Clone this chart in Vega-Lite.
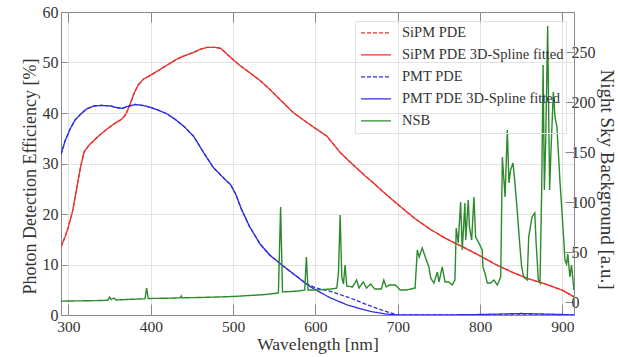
{
  "$schema": "https://vega.github.io/schema/vega-lite/v6.json",
  "width": 513,
  "height": 303,
  "autosize": {"type": "none"},
  "padding": {"left": 61, "top": 12, "right": 44, "bottom": 42},
  "background": "white",
  "config": {
    "font": "Liberation Serif",
    "view": {"stroke": "#999"},
    "axis": {
      "labelFont": "Liberation Serif",
      "titleFont": "Liberation Serif",
      "labelFontSize": 16,
      "titleFontSize": 17.5,
      "titleFontWeight": "normal",
      "labelColor": "#333",
      "titleColor": "#333",
      "domainColor": "#888",
      "tickColor": "#888",
      "gridColor": "#e3e3e3"
    }
  },
  "datasets": {
    "pde": [
      {"s": "SiPM PDE", "wl": 291, "v": 13.5}, {"s": "SiPM PDE", "wl": 296, "v": 15.5}, {"s": "SiPM PDE", "wl": 300, "v": 17.5}, {"s": "SiPM PDE", "wl": 305, "v": 20.5}, {"s": "SiPM PDE", "wl": 310, "v": 25}, {"s": "SiPM PDE", "wl": 315, "v": 29.5}, {"s": "SiPM PDE", "wl": 319, "v": 32.3}, {"s": "SiPM PDE", "wl": 325, "v": 33.6}, {"s": "SiPM PDE", "wl": 335, "v": 35.2}, {"s": "SiPM PDE", "wl": 345, "v": 36.6}, {"s": "SiPM PDE", "wl": 355, "v": 37.8}, {"s": "SiPM PDE", "wl": 365, "v": 38.8}, {"s": "SiPM PDE", "wl": 370, "v": 39.8}, {"s": "SiPM PDE", "wl": 375, "v": 41.8}, {"s": "SiPM PDE", "wl": 380, "v": 44}, {"s": "SiPM PDE", "wl": 385, "v": 45.6}, {"s": "SiPM PDE", "wl": 391, "v": 46.7}, {"s": "SiPM PDE", "wl": 400, "v": 47.5}, {"s": "SiPM PDE", "wl": 412, "v": 48.7}, {"s": "SiPM PDE", "wl": 422, "v": 49.7}, {"s": "SiPM PDE", "wl": 432, "v": 50.7}, {"s": "SiPM PDE", "wl": 442, "v": 51.4}, {"s": "SiPM PDE", "wl": 452, "v": 52}, {"s": "SiPM PDE", "wl": 460, "v": 52.6}, {"s": "SiPM PDE", "wl": 468, "v": 53}, {"s": "SiPM PDE", "wl": 478, "v": 53}, {"s": "SiPM PDE", "wl": 485, "v": 52.8}, {"s": "SiPM PDE", "wl": 493, "v": 51.6}, {"s": "SiPM PDE", "wl": 501, "v": 50.4}, {"s": "SiPM PDE", "wl": 510, "v": 49.2}, {"s": "SiPM PDE", "wl": 520, "v": 48}, {"s": "SiPM PDE", "wl": 533, "v": 46.4}, {"s": "SiPM PDE", "wl": 545, "v": 44.6}, {"s": "SiPM PDE", "wl": 553, "v": 43.3}, {"s": "SiPM PDE", "wl": 563, "v": 41.7}, {"s": "SiPM PDE", "wl": 573, "v": 40.1}, {"s": "SiPM PDE", "wl": 583, "v": 38.9}, {"s": "SiPM PDE", "wl": 595, "v": 37.5}, {"s": "SiPM PDE", "wl": 605, "v": 36.4}, {"s": "SiPM PDE", "wl": 614, "v": 35.4}, {"s": "SiPM PDE", "wl": 622, "v": 33.8}, {"s": "SiPM PDE", "wl": 630, "v": 32.2}, {"s": "SiPM PDE", "wl": 640, "v": 30.6}, {"s": "SiPM PDE", "wl": 650, "v": 29.1}, {"s": "SiPM PDE", "wl": 660, "v": 27.6}, {"s": "SiPM PDE", "wl": 670, "v": 26.2}, {"s": "SiPM PDE", "wl": 680, "v": 24.7}, {"s": "SiPM PDE", "wl": 690, "v": 23.3}, {"s": "SiPM PDE", "wl": 700, "v": 21.9}, {"s": "SiPM PDE", "wl": 720, "v": 19.2}, {"s": "SiPM PDE", "wl": 740, "v": 16.9}, {"s": "SiPM PDE", "wl": 760, "v": 15}, {"s": "SiPM PDE", "wl": 780, "v": 13.4}, {"s": "SiPM PDE", "wl": 800, "v": 11.7}, {"s": "SiPM PDE", "wl": 820, "v": 9.9}, {"s": "SiPM PDE", "wl": 840, "v": 8.4}, {"s": "SiPM PDE", "wl": 860, "v": 7.1}, {"s": "SiPM PDE", "wl": 880, "v": 6.1}, {"s": "SiPM PDE", "wl": 900, "v": 4.9}, {"s": "SiPM PDE", "wl": 914, "v": 3.6},
      {"s": "SiPM PDE 3D-Spline fitted", "wl": 291, "v": 13.5}, {"s": "SiPM PDE 3D-Spline fitted", "wl": 296, "v": 15.5}, {"s": "SiPM PDE 3D-Spline fitted", "wl": 300, "v": 17.5}, {"s": "SiPM PDE 3D-Spline fitted", "wl": 305, "v": 20.5}, {"s": "SiPM PDE 3D-Spline fitted", "wl": 310, "v": 25}, {"s": "SiPM PDE 3D-Spline fitted", "wl": 315, "v": 29.5}, {"s": "SiPM PDE 3D-Spline fitted", "wl": 319, "v": 32.3}, {"s": "SiPM PDE 3D-Spline fitted", "wl": 325, "v": 33.6}, {"s": "SiPM PDE 3D-Spline fitted", "wl": 335, "v": 35.2}, {"s": "SiPM PDE 3D-Spline fitted", "wl": 345, "v": 36.6}, {"s": "SiPM PDE 3D-Spline fitted", "wl": 355, "v": 37.8}, {"s": "SiPM PDE 3D-Spline fitted", "wl": 365, "v": 38.8}, {"s": "SiPM PDE 3D-Spline fitted", "wl": 370, "v": 39.8}, {"s": "SiPM PDE 3D-Spline fitted", "wl": 375, "v": 41.8}, {"s": "SiPM PDE 3D-Spline fitted", "wl": 380, "v": 44}, {"s": "SiPM PDE 3D-Spline fitted", "wl": 385, "v": 45.6}, {"s": "SiPM PDE 3D-Spline fitted", "wl": 391, "v": 46.7}, {"s": "SiPM PDE 3D-Spline fitted", "wl": 400, "v": 47.5}, {"s": "SiPM PDE 3D-Spline fitted", "wl": 412, "v": 48.7}, {"s": "SiPM PDE 3D-Spline fitted", "wl": 422, "v": 49.7}, {"s": "SiPM PDE 3D-Spline fitted", "wl": 432, "v": 50.7}, {"s": "SiPM PDE 3D-Spline fitted", "wl": 442, "v": 51.4}, {"s": "SiPM PDE 3D-Spline fitted", "wl": 452, "v": 52}, {"s": "SiPM PDE 3D-Spline fitted", "wl": 460, "v": 52.6}, {"s": "SiPM PDE 3D-Spline fitted", "wl": 468, "v": 53}, {"s": "SiPM PDE 3D-Spline fitted", "wl": 478, "v": 53}, {"s": "SiPM PDE 3D-Spline fitted", "wl": 485, "v": 52.8}, {"s": "SiPM PDE 3D-Spline fitted", "wl": 493, "v": 51.6}, {"s": "SiPM PDE 3D-Spline fitted", "wl": 501, "v": 50.4}, {"s": "SiPM PDE 3D-Spline fitted", "wl": 510, "v": 49.2}, {"s": "SiPM PDE 3D-Spline fitted", "wl": 520, "v": 48}, {"s": "SiPM PDE 3D-Spline fitted", "wl": 533, "v": 46.4}, {"s": "SiPM PDE 3D-Spline fitted", "wl": 545, "v": 44.6}, {"s": "SiPM PDE 3D-Spline fitted", "wl": 553, "v": 43.3}, {"s": "SiPM PDE 3D-Spline fitted", "wl": 563, "v": 41.7}, {"s": "SiPM PDE 3D-Spline fitted", "wl": 573, "v": 40.1}, {"s": "SiPM PDE 3D-Spline fitted", "wl": 583, "v": 38.9}, {"s": "SiPM PDE 3D-Spline fitted", "wl": 595, "v": 37.5}, {"s": "SiPM PDE 3D-Spline fitted", "wl": 605, "v": 36.4}, {"s": "SiPM PDE 3D-Spline fitted", "wl": 614, "v": 35.4}, {"s": "SiPM PDE 3D-Spline fitted", "wl": 622, "v": 33.8}, {"s": "SiPM PDE 3D-Spline fitted", "wl": 630, "v": 32.2}, {"s": "SiPM PDE 3D-Spline fitted", "wl": 640, "v": 30.6}, {"s": "SiPM PDE 3D-Spline fitted", "wl": 650, "v": 29.1}, {"s": "SiPM PDE 3D-Spline fitted", "wl": 660, "v": 27.6}, {"s": "SiPM PDE 3D-Spline fitted", "wl": 670, "v": 26.2}, {"s": "SiPM PDE 3D-Spline fitted", "wl": 680, "v": 24.7}, {"s": "SiPM PDE 3D-Spline fitted", "wl": 690, "v": 23.3}, {"s": "SiPM PDE 3D-Spline fitted", "wl": 700, "v": 21.9}, {"s": "SiPM PDE 3D-Spline fitted", "wl": 720, "v": 19.2}, {"s": "SiPM PDE 3D-Spline fitted", "wl": 740, "v": 16.9}, {"s": "SiPM PDE 3D-Spline fitted", "wl": 760, "v": 15}, {"s": "SiPM PDE 3D-Spline fitted", "wl": 780, "v": 13.4}, {"s": "SiPM PDE 3D-Spline fitted", "wl": 800, "v": 11.7}, {"s": "SiPM PDE 3D-Spline fitted", "wl": 820, "v": 9.9}, {"s": "SiPM PDE 3D-Spline fitted", "wl": 840, "v": 8.4}, {"s": "SiPM PDE 3D-Spline fitted", "wl": 860, "v": 7.1}, {"s": "SiPM PDE 3D-Spline fitted", "wl": 880, "v": 6.1}, {"s": "SiPM PDE 3D-Spline fitted", "wl": 900, "v": 4.9}, {"s": "SiPM PDE 3D-Spline fitted", "wl": 914, "v": 3.6},
      {"s": "PMT PDE", "wl": 291, "v": 31.8}, {"s": "PMT PDE", "wl": 296, "v": 34.5}, {"s": "PMT PDE", "wl": 302, "v": 36.8}, {"s": "PMT PDE", "wl": 308, "v": 38.6}, {"s": "PMT PDE", "wl": 315, "v": 39.8}, {"s": "PMT PDE", "wl": 322, "v": 40.8}, {"s": "PMT PDE", "wl": 331, "v": 41.4}, {"s": "PMT PDE", "wl": 340, "v": 41.5}, {"s": "PMT PDE", "wl": 351, "v": 41.4}, {"s": "PMT PDE", "wl": 358, "v": 41.1}, {"s": "PMT PDE", "wl": 365, "v": 40.9}, {"s": "PMT PDE", "wl": 372, "v": 41.3}, {"s": "PMT PDE", "wl": 381, "v": 41.7}, {"s": "PMT PDE", "wl": 390, "v": 41.5}, {"s": "PMT PDE", "wl": 400, "v": 41.1}, {"s": "PMT PDE", "wl": 410, "v": 40.5}, {"s": "PMT PDE", "wl": 420, "v": 39.8}, {"s": "PMT PDE", "wl": 430, "v": 38.7}, {"s": "PMT PDE", "wl": 440, "v": 37.4}, {"s": "PMT PDE", "wl": 452, "v": 35.4}, {"s": "PMT PDE", "wl": 464, "v": 32.2}, {"s": "PMT PDE", "wl": 476, "v": 29.2}, {"s": "PMT PDE", "wl": 488, "v": 27.2}, {"s": "PMT PDE", "wl": 497, "v": 25.8}, {"s": "PMT PDE", "wl": 503, "v": 24}, {"s": "PMT PDE", "wl": 510, "v": 21}, {"s": "PMT PDE", "wl": 520, "v": 17.5}, {"s": "PMT PDE", "wl": 533, "v": 14}, {"s": "PMT PDE", "wl": 545, "v": 11.8}, {"s": "PMT PDE", "wl": 560, "v": 9.8}, {"s": "PMT PDE", "wl": 576, "v": 7.8}, {"s": "PMT PDE", "wl": 590, "v": 6.1}, {"s": "PMT PDE", "wl": 600, "v": 5.4}, {"s": "PMT PDE", "wl": 620, "v": 4.6}, {"s": "PMT PDE", "wl": 640, "v": 3.5}, {"s": "PMT PDE", "wl": 660, "v": 2.2}, {"s": "PMT PDE", "wl": 680, "v": 1}, {"s": "PMT PDE", "wl": 700, "v": 0}, {"s": "PMT PDE", "wl": 750, "v": 0}, {"s": "PMT PDE", "wl": 800, "v": 0}, {"s": "PMT PDE", "wl": 850, "v": 0}, {"s": "PMT PDE", "wl": 914, "v": 0},
      {"s": "PMT PDE 3D-Spline fitted", "wl": 291, "v": 31.8}, {"s": "PMT PDE 3D-Spline fitted", "wl": 296, "v": 34.5}, {"s": "PMT PDE 3D-Spline fitted", "wl": 302, "v": 36.8}, {"s": "PMT PDE 3D-Spline fitted", "wl": 308, "v": 38.6}, {"s": "PMT PDE 3D-Spline fitted", "wl": 315, "v": 39.8}, {"s": "PMT PDE 3D-Spline fitted", "wl": 322, "v": 40.8}, {"s": "PMT PDE 3D-Spline fitted", "wl": 331, "v": 41.4}, {"s": "PMT PDE 3D-Spline fitted", "wl": 340, "v": 41.5}, {"s": "PMT PDE 3D-Spline fitted", "wl": 351, "v": 41.4}, {"s": "PMT PDE 3D-Spline fitted", "wl": 358, "v": 41.1}, {"s": "PMT PDE 3D-Spline fitted", "wl": 365, "v": 40.9}, {"s": "PMT PDE 3D-Spline fitted", "wl": 372, "v": 41.3}, {"s": "PMT PDE 3D-Spline fitted", "wl": 381, "v": 41.7}, {"s": "PMT PDE 3D-Spline fitted", "wl": 390, "v": 41.5}, {"s": "PMT PDE 3D-Spline fitted", "wl": 400, "v": 41.1}, {"s": "PMT PDE 3D-Spline fitted", "wl": 410, "v": 40.5}, {"s": "PMT PDE 3D-Spline fitted", "wl": 420, "v": 39.8}, {"s": "PMT PDE 3D-Spline fitted", "wl": 430, "v": 38.7}, {"s": "PMT PDE 3D-Spline fitted", "wl": 440, "v": 37.4}, {"s": "PMT PDE 3D-Spline fitted", "wl": 452, "v": 35.4}, {"s": "PMT PDE 3D-Spline fitted", "wl": 464, "v": 32.2}, {"s": "PMT PDE 3D-Spline fitted", "wl": 476, "v": 29.2}, {"s": "PMT PDE 3D-Spline fitted", "wl": 488, "v": 27.2}, {"s": "PMT PDE 3D-Spline fitted", "wl": 497, "v": 25.8}, {"s": "PMT PDE 3D-Spline fitted", "wl": 503, "v": 24}, {"s": "PMT PDE 3D-Spline fitted", "wl": 510, "v": 21}, {"s": "PMT PDE 3D-Spline fitted", "wl": 520, "v": 17.5}, {"s": "PMT PDE 3D-Spline fitted", "wl": 533, "v": 14}, {"s": "PMT PDE 3D-Spline fitted", "wl": 545, "v": 11.8}, {"s": "PMT PDE 3D-Spline fitted", "wl": 560, "v": 9.8}, {"s": "PMT PDE 3D-Spline fitted", "wl": 576, "v": 7.8}, {"s": "PMT PDE 3D-Spline fitted", "wl": 590, "v": 6}, {"s": "PMT PDE 3D-Spline fitted", "wl": 600, "v": 5}, {"s": "PMT PDE 3D-Spline fitted", "wl": 618, "v": 3.4}, {"s": "PMT PDE 3D-Spline fitted", "wl": 640, "v": 1.9}, {"s": "PMT PDE 3D-Spline fitted", "wl": 667, "v": 0.7}, {"s": "PMT PDE 3D-Spline fitted", "wl": 685, "v": 0.2}, {"s": "PMT PDE 3D-Spline fitted", "wl": 700, "v": 0}, {"s": "PMT PDE 3D-Spline fitted", "wl": 750, "v": 0}, {"s": "PMT PDE 3D-Spline fitted", "wl": 800, "v": 0.1}, {"s": "PMT PDE 3D-Spline fitted", "wl": 850, "v": 0.3}, {"s": "PMT PDE 3D-Spline fitted", "wl": 900, "v": 0.1}, {"s": "PMT PDE 3D-Spline fitted", "wl": 914, "v": 0}
    ],
    "nsb": [
      {"s": "NSB", "wl": 291, "v": 0.8}, {"s": "NSB", "wl": 300, "v": 1}, {"s": "NSB", "wl": 320, "v": 1.2}, {"s": "NSB", "wl": 340, "v": 1.5}, {"s": "NSB", "wl": 348, "v": 1.8}, {"s": "NSB", "wl": 350, "v": 5}, {"s": "NSB", "wl": 352, "v": 2.5}, {"s": "NSB", "wl": 355, "v": 4}, {"s": "NSB", "wl": 358, "v": 2}, {"s": "NSB", "wl": 370, "v": 2.5}, {"s": "NSB", "wl": 385, "v": 3}, {"s": "NSB", "wl": 393, "v": 3.2}, {"s": "NSB", "wl": 395, "v": 14}, {"s": "NSB", "wl": 397, "v": 3.5}, {"s": "NSB", "wl": 420, "v": 3.8}, {"s": "NSB", "wl": 436, "v": 4.2}, {"s": "NSB", "wl": 437, "v": 6}, {"s": "NSB", "wl": 438, "v": 4.2}, {"s": "NSB", "wl": 460, "v": 4.5}, {"s": "NSB", "wl": 480, "v": 5}, {"s": "NSB", "wl": 500, "v": 5.5}, {"s": "NSB", "wl": 520, "v": 6.5}, {"s": "NSB", "wl": 540, "v": 7.5}, {"s": "NSB", "wl": 550, "v": 8.5}, {"s": "NSB", "wl": 555, "v": 9}, {"s": "NSB", "wl": 557.7, "v": 95}, {"s": "NSB", "wl": 560, "v": 10}, {"s": "NSB", "wl": 570, "v": 10.5}, {"s": "NSB", "wl": 580, "v": 11}, {"s": "NSB", "wl": 587, "v": 12}, {"s": "NSB", "wl": 589, "v": 45}, {"s": "NSB", "wl": 591, "v": 12}, {"s": "NSB", "wl": 600, "v": 12}, {"s": "NSB", "wl": 610, "v": 12.5}, {"s": "NSB", "wl": 620, "v": 13}, {"s": "NSB", "wl": 626, "v": 14}, {"s": "NSB", "wl": 628, "v": 30}, {"s": "NSB", "wl": 630, "v": 87}, {"s": "NSB", "wl": 632, "v": 25}, {"s": "NSB", "wl": 634, "v": 18}, {"s": "NSB", "wl": 636, "v": 37}, {"s": "NSB", "wl": 638, "v": 16}, {"s": "NSB", "wl": 645, "v": 15}, {"s": "NSB", "wl": 650, "v": 22}, {"s": "NSB", "wl": 653, "v": 14}, {"s": "NSB", "wl": 658, "v": 20}, {"s": "NSB", "wl": 662, "v": 14}, {"s": "NSB", "wl": 667, "v": 18}, {"s": "NSB", "wl": 672, "v": 13}, {"s": "NSB", "wl": 680, "v": 13}, {"s": "NSB", "wl": 683, "v": 22}, {"s": "NSB", "wl": 686, "v": 15}, {"s": "NSB", "wl": 690, "v": 17}, {"s": "NSB", "wl": 697, "v": 17}, {"s": "NSB", "wl": 703, "v": 12}, {"s": "NSB", "wl": 710, "v": 12}, {"s": "NSB", "wl": 716, "v": 13}, {"s": "NSB", "wl": 721, "v": 14}, {"s": "NSB", "wl": 723.7, "v": 52}, {"s": "NSB", "wl": 726, "v": 45}, {"s": "NSB", "wl": 729.7, "v": 54}, {"s": "NSB", "wl": 733.8, "v": 44}, {"s": "NSB", "wl": 737.8, "v": 35}, {"s": "NSB", "wl": 740, "v": 24}, {"s": "NSB", "wl": 743.9, "v": 19}, {"s": "NSB", "wl": 748, "v": 30}, {"s": "NSB", "wl": 750, "v": 20}, {"s": "NSB", "wl": 754, "v": 35}, {"s": "NSB", "wl": 757.4, "v": 20}, {"s": "NSB", "wl": 762, "v": 20}, {"s": "NSB", "wl": 766, "v": 17}, {"s": "NSB", "wl": 769.4, "v": 22}, {"s": "NSB", "wl": 771, "v": 74}, {"s": "NSB", "wl": 773.4, "v": 59}, {"s": "NSB", "wl": 776.3, "v": 100}, {"s": "NSB", "wl": 778.3, "v": 52}, {"s": "NSB", "wl": 781.5, "v": 99}, {"s": "NSB", "wl": 782.5, "v": 62}, {"s": "NSB", "wl": 785.6, "v": 102}, {"s": "NSB", "wl": 787, "v": 75}, {"s": "NSB", "wl": 789.7, "v": 62}, {"s": "NSB", "wl": 792.5, "v": 105}, {"s": "NSB", "wl": 794.5, "v": 65}, {"s": "NSB", "wl": 798.5, "v": 59}, {"s": "NSB", "wl": 802.6, "v": 52}, {"s": "NSB", "wl": 803.4, "v": 35}, {"s": "NSB", "wl": 805.9, "v": 29}, {"s": "NSB", "wl": 808.7, "v": 19}, {"s": "NSB", "wl": 812.7, "v": 19}, {"s": "NSB", "wl": 816.8, "v": 22}, {"s": "NSB", "wl": 820.9, "v": 17}, {"s": "NSB", "wl": 825, "v": 25}, {"s": "NSB", "wl": 827, "v": 145}, {"s": "NSB", "wl": 830.3, "v": 105}, {"s": "NSB", "wl": 833, "v": 172}, {"s": "NSB", "wl": 835, "v": 119}, {"s": "NSB", "wl": 837, "v": 132}, {"s": "NSB", "wl": 839.9, "v": 139}, {"s": "NSB", "wl": 842.3, "v": 119}, {"s": "NSB", "wl": 845, "v": 92}, {"s": "NSB", "wl": 848, "v": 59}, {"s": "NSB", "wl": 850.4, "v": 35}, {"s": "NSB", "wl": 853, "v": 25}, {"s": "NSB", "wl": 857.1, "v": 22}, {"s": "NSB", "wl": 859, "v": 65}, {"s": "NSB", "wl": 863, "v": 85}, {"s": "NSB", "wl": 866.4, "v": 89}, {"s": "NSB", "wl": 868, "v": 59}, {"s": "NSB", "wl": 870.7, "v": 22}, {"s": "NSB", "wl": 872.7, "v": 19}, {"s": "NSB", "wl": 874.7, "v": 110}, {"s": "NSB", "wl": 876.5, "v": 237}, {"s": "NSB", "wl": 878, "v": 112}, {"s": "NSB", "wl": 879.6, "v": 159}, {"s": "NSB", "wl": 882, "v": 276}, {"s": "NSB", "wl": 884.4, "v": 112}, {"s": "NSB", "wl": 886, "v": 150}, {"s": "NSB", "wl": 888.9, "v": 210}, {"s": "NSB", "wl": 890.9, "v": 185}, {"s": "NSB", "wl": 893.3, "v": 175}, {"s": "NSB", "wl": 895, "v": 150}, {"s": "NSB", "wl": 897, "v": 120}, {"s": "NSB", "wl": 899, "v": 95}, {"s": "NSB", "wl": 901, "v": 70}, {"s": "NSB", "wl": 903, "v": 42}, {"s": "NSB", "wl": 905, "v": 38}, {"s": "NSB", "wl": 906.5, "v": 48}, {"s": "NSB", "wl": 909, "v": 25}, {"s": "NSB", "wl": 911, "v": 37}, {"s": "NSB", "wl": 913.9, "v": 12}
    ]
  },
  "layer": [
    {
      "data": {"name": "pde"},
      "mark": {"type": "line", "strokeWidth": 1.3, "clip": true},
      "encoding": {
        "x": {
          "field": "wl", "type": "quantitative",
          "scale": {"domain": [291, 914], "nice": false, "zero": false},
          "axis": {"orient": "bottom", "values": [300, 400, 500, 600, 700, 800, 900], "tickSize": -11, "labelPadding": 15, "labelFontSize": 15.5, "grid": true, "title": "Wavelength [nm]", "titlePadding": 1}
        },
        "y": {
          "field": "v", "type": "quantitative",
          "scale": {"domain": [0, 60], "nice": false, "zero": false},
          "axis": {"orient": "left", "values": [0, 10, 20, 30, 40, 50, 60], "tickSize": -6, "labelPadding": 9, "grid": true, "title": "Photon Detection Efficiency [%]", "titleFontSize": 18, "titleY": 164, "titlePadding": 3}
        },
        "color": {
          "field": "s", "type": "nominal",
          "scale": {"domain": ["SiPM PDE", "SiPM PDE 3D-Spline fitted", "PMT PDE", "PMT PDE 3D-Spline fitted", "NSB"], "range": ["#e8332f", "#e8332f", "#2f2fe0", "#2f2fe0", "#2b8a2b"]},
          "legend": {"orient": "none", "legendX": 294, "legendY": 9, "title": null, "symbolType": "stroke", "symbolSize": 900, "symbolStrokeWidth": 1.3, "symbolOffset": 3, "labelFont": "Liberation Serif", "labelFontSize": 14.5, "labelColor": "#333", "labelOffset": 10, "labelLimit": 300, "padding": 2, "rowPadding": 2, "clipHeight": 19.7, "strokeColor": "#e2e2e2"}
        },
        "strokeDash": {
          "field": "s", "type": "nominal",
          "scale": {"domain": ["SiPM PDE", "SiPM PDE 3D-Spline fitted", "PMT PDE", "PMT PDE 3D-Spline fitted", "NSB"], "range": [[4, 2], [1, 0], [4, 2], [1, 0], [1, 0]]},
          "legend": {"orient": "none", "legendX": 294, "legendY": 9, "title": null, "symbolType": "stroke", "symbolSize": 900, "symbolStrokeWidth": 1.3, "symbolOffset": 3, "labelFont": "Liberation Serif", "labelFontSize": 14.5, "labelColor": "#333", "labelOffset": 10, "labelLimit": 300, "padding": 2, "rowPadding": 2, "clipHeight": 19.7, "strokeColor": "#e2e2e2"}
        }
      }
    },
    {
      "data": {"name": "nsb"},
      "mark": {"type": "line", "strokeWidth": 1.4, "clip": true},
      "encoding": {
        "x": {
          "field": "wl", "type": "quantitative",
          "scale": {"domain": [291, 914], "nice": false, "zero": false},
          "axis": {"orient": "top", "values": [300, 400, 500, 600, 700, 800, 900], "tickSize": -10, "labels": false, "grid": false, "title": null}
        },
        "y": {
          "field": "v", "type": "quantitative",
          "scale": {"domain": [-13, 290], "nice": false, "zero": false},
          "axis": {"orient": "right", "values": [0, 50, 100, 150, 200, 250], "tickSize": -9, "labelPadding": 6, "grid": false, "title": "Night Sky Background [a.u.]", "titleFontSize": 19, "titleY": 167, "titlePadding": 1}
        },
        "color": {"field": "s", "type": "nominal"},
        "strokeDash": {"field": "s", "type": "nominal"}
      }
    }
  ],
  "resolve": {"scale": {"y": "independent"}, "axis": {"x": "independent"}}
}
